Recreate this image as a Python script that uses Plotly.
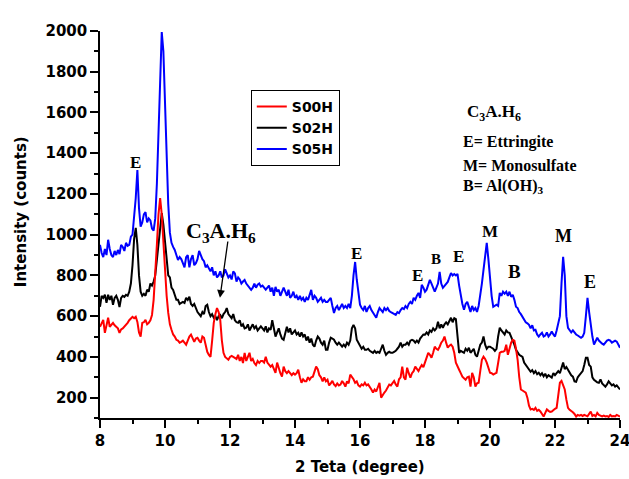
import numpy as np
import plotly.graph_objects as go

# 2-theta grid (degree), 0.05 step from 8 to 24
two_theta = np.round(np.arange(8.0, 24.0001, 0.05), 2)

# Intensity rows: each row covers one degree (d.00 ... d.95), last value is 24.00
s00h_rows = [
    [548, 570, 582, 518, 560, 592, 548, 560, 567, 555, 548, 540, 518, 535, 540, 548, 560, 567, 580, 590],
    [597, 590, 597, 572, 520, 500, 567, 570, 582, 560, 567, 580, 606, 680, 800, 950, 1100, 1180, 1100, 950],
    [850, 700, 616, 560, 533, 510, 500, 484, 480, 470, 474, 480, 470, 460, 480, 500, 509, 490, 474, 490],
    [494, 480, 470, 500, 494, 460, 425, 410, 400, 480, 567, 610, 640, 620, 582, 480, 420, 400, 395, 386],
    [400, 405, 400, 395, 390, 410, 380, 400, 370, 420, 380, 400, 420, 380, 390, 370, 360, 380, 370, 380],
    [380, 372, 400, 372, 360, 352, 360, 340, 322, 372, 340, 320, 303, 352, 330, 320, 330, 322, 310, 320],
    [313, 320, 337, 300, 273, 290, 281, 281, 300, 288, 300, 303, 330, 352, 340, 310, 300, 280, 300, 280],
    [288, 260, 270, 282, 265, 257, 270, 260, 264, 282, 270, 254, 280, 270, 313, 303, 290, 273, 280, 260],
    [254, 265, 260, 273, 260, 265, 254, 240, 225, 240, 230, 250, 273, 200, 215, 225, 235, 250, 264, 260],
    [270, 282, 265, 254, 290, 300, 352, 300, 288, 347, 320, 298, 320, 330, 352, 340, 330, 347, 360, 350],
    [372, 390, 420, 410, 396, 420, 450, 440, 435, 450, 470, 480, 500, 470, 445, 455, 460, 450, 420, 372],
    [350, 337, 320, 303, 295, 288, 300, 303, 254, 322, 300, 254, 270, 273, 330, 386, 401, 390, 372, 350],
    [322, 320, 313, 318, 322, 370, 420, 425, 425, 430, 460, 410, 440, 470, 484, 480, 440, 386, 300, 240],
    [235, 230, 225, 200, 160, 142, 145, 140, 150, 135, 140, 132, 120, 107, 125, 142, 135, 130, 132, 140],
    [145, 150, 220, 273, 282, 260, 240, 190, 150, 140, 135, 128, 120, 107, 115, 112, 115, 110, 115, 110],
    [108, 120, 132, 110, 115, 108, 125, 115, 110, 108, 112, 108, 110, 105, 115, 108, 110, 108, 115, 110],
    [107],
]
s02h_rows = [
    [646, 700, 690, 705, 665, 705, 680, 700, 656, 690, 700, 680, 645, 690, 700, 695, 705, 700, 720, 760],
    [850, 980, 1033, 950, 800, 720, 700, 710, 700, 730, 720, 760, 750, 770, 800, 880, 950, 1050, 1106, 1050],
    [960, 900, 800, 790, 740, 729, 700, 680, 680, 660, 665, 670, 665, 690, 680, 695, 660, 650, 660, 640],
    [620, 610, 600, 620, 610, 650, 656, 620, 600, 610, 592, 600, 580, 600, 606, 590, 610, 620, 640, 610],
    [600, 590, 610, 580, 570, 567, 580, 550, 560, 540, 543, 560, 530, 547, 560, 540, 550, 530, 540, 550],
    [540, 530, 550, 520, 540, 533, 580, 540, 500, 520, 540, 510, 490, 484, 520, 548, 520, 540, 510, 520],
    [530, 510, 518, 500, 520, 500, 510, 480, 500, 470, 490, 460, 450, 480, 500, 490, 470, 460, 480, 435],
    [435, 470, 494, 490, 484, 470, 460, 470, 460, 450, 460, 450, 470, 460, 480, 540, 557, 540, 484, 470],
    [450, 440, 450, 435, 435, 440, 430, 425, 420, 430, 420, 425, 420, 440, 460, 430, 410, 420, 425, 420],
    [420, 425, 430, 440, 450, 470, 450, 460, 460, 470, 460, 480, 484, 480, 470, 480, 470, 490, 500, 510],
    [509, 520, 510, 530, 523, 540, 530, 540, 572, 540, 560, 543, 560, 570, 560, 580, 592, 570, 590, 585],
    [480, 420, 430, 425, 420, 440, 430, 445, 420, 430, 440, 410, 401, 430, 460, 470, 500, 460, 440, 450],
    [450, 445, 440, 430, 440, 500, 543, 530, 518, 510, 530, 520, 518, 500, 480, 460, 435, 420, 410, 405],
    [400, 372, 360, 350, 340, 327, 335, 320, 330, 315, 322, 310, 320, 305, 317, 300, 310, 305, 298, 320],
    [310, 320, 330, 320, 347, 372, 340, 350, 337, 320, 310, 303, 280, 278, 300, 310, 322, 330, 360, 396],
    [396, 360, 352, 300, 288, 280, 275, 273, 290, 270, 260, 254, 265, 280, 270, 260, 265, 254, 260, 250],
    [240],
]
s05h_rows = [
    [950, 910, 890, 930, 900, 975, 930, 900, 890, 920, 900, 925, 905, 950, 940, 920, 960, 945, 950, 990],
    [1000, 1090, 1180, 1317, 1130, 1040, 1060, 1100, 1111, 1060, 1080, 1070, 1030, 1020, 1080, 1250, 1500, 1850, 1995, 1900],
    [1650, 1350, 1150, 1010, 960, 940, 925, 900, 876, 890, 880, 860, 840, 890, 900, 840, 880, 900, 850, 860],
    [880, 920, 900, 880, 870, 840, 850, 830, 820, 840, 800, 820, 790, 800, 820, 790, 800, 830, 810, 790],
    [800, 780, 820, 810, 770, 790, 780, 760, 770, 778, 760, 750, 740, 729, 740, 760, 740, 754, 760, 745],
    [750, 739, 730, 740, 750, 720, 740, 700, 744, 720, 730, 700, 720, 740, 720, 700, 730, 690, 700, 720],
    [690, 700, 680, 700, 680, 690, 670, 690, 680, 700, 729, 680, 700, 690, 670, 680, 690, 670, 680, 670],
    [670, 680, 690, 650, 616, 640, 650, 630, 646, 660, 640, 650, 640, 660, 640, 700, 800, 866, 780, 705],
    [656, 640, 630, 650, 621, 640, 650, 630, 616, 600, 592, 620, 640, 630, 620, 640, 630, 640, 625, 620],
    [616, 610, 606, 620, 615, 630, 640, 635, 650, 640, 660, 670, 660, 690, 680, 700, 714, 690, 754, 740],
    [720, 730, 760, 778, 760, 740, 720, 740, 760, 817, 760, 739, 750, 760, 768, 790, 812, 800, 807, 800],
    [807, 750, 695, 660, 631, 660, 670, 640, 621, 650, 630, 640, 621, 650, 695, 760, 827, 900, 960, 880],
    [778, 700, 646, 650, 656, 650, 714, 700, 720, 710, 720, 700, 720, 695, 705, 680, 646, 640, 620, 610],
    [597, 590, 570, 565, 557, 540, 555, 530, 533, 510, 500, 510, 518, 500, 505, 520, 500, 510, 525, 510],
    [500, 530, 567, 600, 760, 891, 800, 600, 543, 530, 520, 530, 518, 510, 505, 500, 494, 500, 518, 600],
    [690, 620, 548, 500, 460, 475, 494, 480, 470, 465, 460, 470, 480, 484, 480, 470, 475, 480, 475, 460],
    [445],
]

s00h = [v for r in s00h_rows for v in r]
s02h = [v for r in s02h_rows for v in r]
s05h = [v for r in s05h_rows for v in r]
assert len(s00h) == len(s02h) == len(s05h) == len(two_theta)

series_names = ["S00H", "S02H", "S05H"]
series_colors = ["#ff0000", "#000000", "#0000ff"]
series_values = [s00h, s02h, s05h]

x_ticks = [8, 10, 12, 14, 16, 18, 20, 22, 24]
y_ticks = [200, 400, 600, 800, 1000, 1200, 1400, 1600, 1800, 2000]

fig = go.Figure()
# draw blue first, red last (red on top); legend shown reversed
for name, col, vals in reversed(list(zip(series_names, series_colors, series_values))):
    fig.add_trace(go.Scatter(x=two_theta, y=vals, mode="lines", name=name,
                             line=dict(color=col, width=2)))

sans = "DejaVu Sans"
serif = "Liberation Serif"

fig.update_layout(
    width=629, height=479,
    margin=dict(l=100, r=9, t=31, b=61, autoexpand=False),
    paper_bgcolor="white", plot_bgcolor="white",
    showlegend=True,
    legend=dict(x=0.29, y=0.8475, xanchor="left", yanchor="top",
                bordercolor="black", borderwidth=1, bgcolor="white",
                traceorder="reversed",
                font=dict(family=sans, size=14, color="black", weight="bold"),
                itemwidth=30, tracegroupgap=0),
    xaxis=dict(range=[8, 24], tickvals=x_ticks, ticks="outside", ticklen=8, tickwidth=1.5,
               tickcolor="black", showline=True, linecolor="black", linewidth=1.5,
               showgrid=False, zeroline=False, ticklabeloverflow="allow", automargin=False,
               tickfont=dict(family=sans, size=15, color="black", weight="bold"),
               minor=dict(dtick=1, ticks="outside", ticklen=4, tickwidth=1.5, tickcolor="black")),
    yaxis=dict(range=[100, 2000], tickvals=y_ticks, ticks="outside", ticklen=8, tickwidth=1.5,
               tickcolor="black", showline=True, linecolor="black", linewidth=1.5,
               showgrid=False, zeroline=False, automargin=False,
               tickfont=dict(family=sans, size=15, color="black", weight="bold"),
               minor=dict(dtick=100, tick0=100, ticks="outside", ticklen=4, tickwidth=1.5, tickcolor="black")),
)

def ann(x, y, text, size, font=serif, **kw):
    fig.add_annotation(x=x, y=y, text=text, showarrow=False, xref="x", yref="y",
                       font=dict(family=font, size=size, color="black", weight="bold"), **kw)

# peak labels
ann(9.91, 2057, "E+M", 18)
ann(9.08, 1356, "E", 17)
ann(11.72, 1013, "C<sub>3</sub>A.H<sub>6</sub>", 22)
ann(15.88, 906, "E", 17)
ann(17.78, 798, "E", 17)
ann(18.34, 881, "B", 15)
ann(19.02, 891, "E", 17)
ann(20.0, 1018, "M", 17)
ann(20.74, 817, "B", 19)
ann(22.25, 994, "M", 18)
ann(23.08, 768, "E", 18)

# key block
ann(19.23, 1597, "C<sub>3</sub>A.H<sub>6</sub>", 17, xanchor="left")
ann(19.11, 1454, "E= Ettringite", 16, xanchor="left")
ann(19.11, 1342, "M= Monosulfate", 16, xanchor="left")
ann(19.11, 1239, "B= Al(OH)<sub>3</sub>", 16, xanchor="left")

# arrow to C3A.H6 peak
fig.add_annotation(x=11.69, y=690, ax=11.94, ay=974, axref="x", ayref="y",
                   xref="x", yref="y", text="", showarrow=True,
                   arrowhead=2, arrowsize=1.2, arrowwidth=1.3, arrowcolor="black")

# axis titles
fig.add_annotation(xref="paper", yref="paper", x=0.5, y=-0.155, text="2 Teta (degree)",
                   showarrow=False, font=dict(family=sans, size=15, color="black", weight="bold"))
fig.add_annotation(xref="paper", yref="paper", x=-0.173, y=0.532, text="Intensity (counts)",
                   textangle=-90, showarrow=False,
                   font=dict(family=sans, size=15, color="black", weight="bold"))

fig.write_html("out.html")
